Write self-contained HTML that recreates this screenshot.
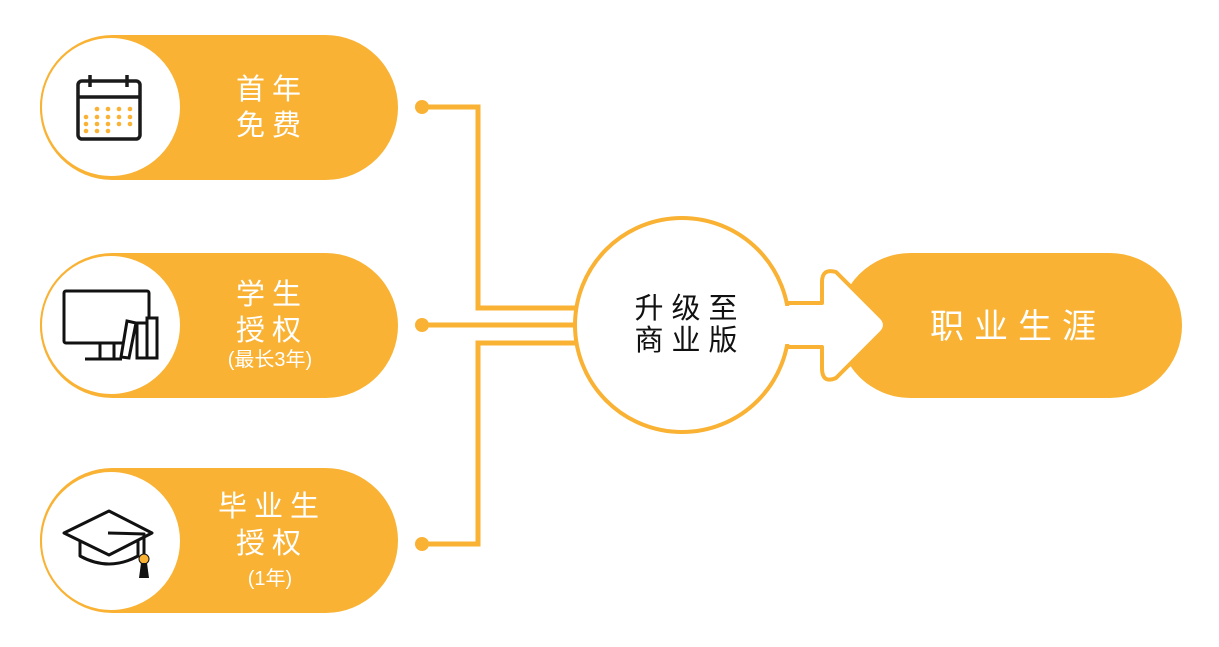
<!DOCTYPE html>
<html><head><meta charset="utf-8"><style>
html,body{margin:0;padding:0;background:#fff;}
svg{display:block;}
text{font-family:"Liberation Sans","Noto Sans CJK SC",sans-serif;}
</style></head><body>
<svg width="1219" height="647" viewBox="0 0 1219 647" xmlns="http://www.w3.org/2000/svg">
<g fill="#F9B233">
<rect x="40" y="35" width="358" height="145" rx="72.5"/>
<rect x="40" y="253" width="358" height="145" rx="72.5"/>
<rect x="40" y="468" width="358" height="145" rx="72.5"/>
<rect x="838" y="253" width="344" height="145" rx="72.5"/>
</g>
<g fill="#fff" stroke="#F9B233" stroke-width="2">
<circle cx="111" cy="107" r="70"/>
<circle cx="111" cy="325" r="70"/>
<circle cx="111" cy="541" r="70"/>
</g>
<g stroke="#F9B233" stroke-width="5" fill="none">
<polyline points="422,107 478,107 478,308 580,308"/>
<line x1="422" y1="325" x2="580" y2="325"/>
<polyline points="422,544 478,544 478,343 580,343"/>
</g>
<g fill="#F9B233">
<circle cx="422" cy="107" r="7"/>
<circle cx="422" cy="325" r="7"/>
<circle cx="422" cy="544" r="7"/>
</g>
<path d="M780,303 L822,303 L822,282 Q822,268 836,272 L882,318 Q888,325 882,332 L836,378 Q822,384 822,368 L822,347 L780,347 Z" fill="#fff" stroke="#F9B233" stroke-width="4" stroke-linejoin="round"/>
<circle cx="682" cy="325" r="107" fill="#fff" stroke="#F9B233" stroke-width="4"/>
<rect x="770" y="306" width="30" height="38" fill="#fff"/>
<g fill="#fff" text-anchor="middle" font-size="29" letter-spacing="7">
<text x="272" y="99">首年</text>
<text x="272" y="135">免费</text>
<text x="272" y="304">学生</text>
<text x="272" y="340">授权</text>
<text x="272" y="516">毕业生</text>
<text x="272" y="553">授权</text>
</g>
<g fill="#fff" text-anchor="middle" font-size="20">
<text x="270" y="366">(最长3年)</text>
<text x="270" y="585">(1年)</text>
</g>
<text x="1018" y="338" fill="#fff" text-anchor="middle" font-size="34" letter-spacing="10">职业生涯</text>
<g fill="#111" text-anchor="middle" font-size="29" letter-spacing="8">
<text x="690" y="318">升级至</text>
<text x="690" y="350">商业版</text>
</g>
<g fill="none" stroke="#1a1a1a" stroke-width="3.5">
<rect x="78" y="81" width="62" height="58" rx="4"/>
<line x1="78" y1="97" x2="140" y2="97"/>
<line x1="90" y1="75" x2="90" y2="87"/>
<line x1="127" y1="75" x2="127" y2="87"/>
</g>
<g fill="#F9B233">
<circle cx="97" cy="109" r="2.3"/><circle cx="108" cy="109" r="2.3"/><circle cx="119" cy="109" r="2.3"/><circle cx="130" cy="109" r="2.3"/>
<circle cx="86" cy="117" r="2.3"/><circle cx="97" cy="117" r="2.3"/><circle cx="108" cy="117" r="2.3"/><circle cx="119" cy="117" r="2.3"/><circle cx="130" cy="117" r="2.3"/>
<circle cx="86" cy="124" r="2.3"/><circle cx="97" cy="124" r="2.3"/><circle cx="108" cy="124" r="2.3"/><circle cx="119" cy="124" r="2.3"/><circle cx="130" cy="124" r="2.3"/>
<circle cx="86" cy="131" r="2.3"/><circle cx="97" cy="131" r="2.3"/><circle cx="108" cy="131" r="2.3"/>
</g>
<g fill="none" stroke="#111" stroke-width="3">
<path d="M122,343 H66 a2,2 0 0 1 -2,-2 V293 a2,2 0 0 1 2,-2 H147 a2,2 0 0 1 2,2 V318"/>
<line x1="100" y1="343" x2="100" y2="358"/>
<line x1="114" y1="343" x2="114" y2="358"/>
<line x1="85" y1="359" x2="122" y2="359"/>
<polygon points="127,321 136,323 129,358 121,357"/>
<rect x="137" y="323" width="10" height="35"/>
<rect x="147" y="318" width="10" height="40"/>
</g>
<g fill="none" stroke="#111" stroke-width="3" stroke-linejoin="round">
<polygon points="64,533 109,511 152,533 109,555"/>
<path d="M80,541 V556 Q109,572 138,556 V541"/>
<polyline points="108,533 144,534 144,556"/>
</g>
<circle cx="144" cy="559" r="5" fill="#F9B233" stroke="#111" stroke-width="1"/>
<polygon points="141,563 147,563 149,578 139,578" fill="#111"/>
</svg>
</body></html>
